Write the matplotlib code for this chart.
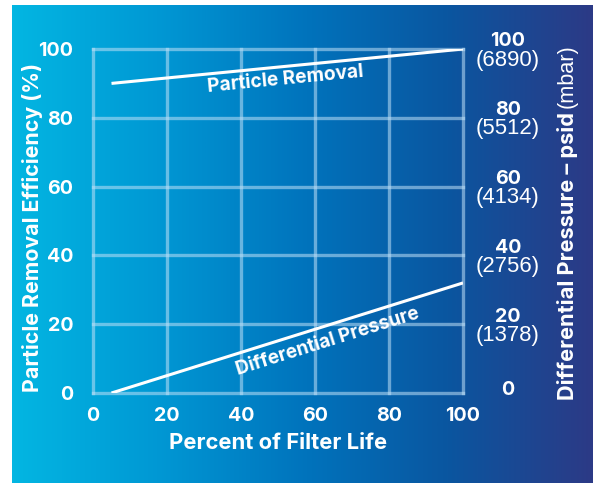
import numpy as np
import matplotlib
matplotlib.use("Agg")
import matplotlib.pyplot as plt
from matplotlib.colors import LinearSegmentedColormap
import matplotlib.transforms as mtransforms

# ---- data ----
x_ticks = [0, 20, 40, 60, 80, 100]
y_ticks = [0, 20, 40, 60, 80, 100]
psid_ticks = [0, 20, 40, 60, 80, 100]
mbar_labels = ["", "(1378)", "(2756)", "(4134)", "(5512)", "(6890)"]

filter_life = [5, 100]
particle_removal = [90, 100]
diff_pressure = [0, 32]

BOLD = ["Inter", "DejaVu Sans"]
REG = ["Liberation Sans", "DejaVu Sans"]
WHITE = "white"

W, H = 597, 483
fig = plt.figure(figsize=(W / 100, H / 100), dpi=100)
fig.patch.set_facecolor("white")
renderer = fig.canvas.get_renderer()


def fit_size(text, target_px, family, weight):
    """font size (pt) so that text spans target_px horizontally (unrotated)."""
    t = fig.text(0, 0, text, fontsize=10, fontfamily=family, fontweight=weight)
    w = t.get_window_extent(renderer).width
    t.remove()
    return 10 * target_px / w


# background gradient panel
bg = fig.add_axes([12 / W, 0, (593 - 12) / W, 1 - 5 / H], zorder=0)
cmap = LinearSegmentedColormap.from_list(
    "bg",
    [(0.0, "#03b6e2"), (0.25, "#0098d4"), (0.5, "#0074bd"), (0.75, "#0a56a0"), (1.0, "#2c3a86")],
)
grad = np.linspace(0, 1, 512)[None, :]
bg.imshow(grad, aspect="auto", cmap=cmap, extent=[0, 1, 0, 1])
bg.set_axis_off()

ax = fig.add_axes([93 / W, 1 - 393 / H, (463 - 93) / W, (393 - 49) / H], zorder=2)
ax.patch.set_alpha(0)
ax.set_xlim(0, 100)
ax.set_ylim(0, 100)
for s in ax.spines.values():
    s.set_visible(False)
ax.set_xticks(x_ticks)
ax.set_yticks(y_ticks)
ax.grid(True, color=(0.75, 0.88, 0.97), alpha=0.55, linewidth=2.4)
for gl in ax.get_xgridlines() + ax.get_ygridlines():
    gl.set_clip_on(False)

tick_fs = fit_size("100", 35, BOLD, "bold")
ax.tick_params(length=0, colors=WHITE, labelsize=tick_fs)
ax.tick_params(axis="x", pad=10)
ax.tick_params(axis="y", pad=14)
for lab in ax.get_xticklabels() + ax.get_yticklabels():
    lab.set_fontfamily(BOLD)
    lab.set_fontweight("bold")

ax.set_xlabel("Percent of Filter Life", color=WHITE,
              fontsize=fit_size("Percent of Filter Life", 217, BOLD, "bold"),
              fontweight="bold", fontfamily=BOLD, labelpad=6)

yl = "Particle Removal Efficiency (%)"
fig.text(33 / W, 1 - 227 / H, yl, color=WHITE,
         fontsize=fit_size(yl, 328, BOLD, "bold"), fontweight="bold",
         fontfamily=BOLD, rotation=90, ha="center", va="center")

ax.plot(filter_life, particle_removal, color=WHITE, lw=2.2, solid_capstyle="butt", zorder=5)
ax.plot(filter_life, diff_pressure, color=WHITE, lw=2.2, solid_capstyle="butt", zorder=5)


def line_angle(xs, ys):
    p = ax.transData.transform(np.column_stack([xs, ys]))
    return np.degrees(np.arctan2(p[1, 1] - p[0, 1], p[1, 0] - p[0, 0]))


ax.text(52, 91.2, "Particle Removal", color=WHITE,
        fontsize=fit_size("Particle Removal", 156, BOLD, "bold"), fontweight="bold",
        fontfamily=BOLD, rotation=line_angle(filter_life, particle_removal),
        rotation_mode="anchor", ha="center", va="center")
ax.text(63.5, 15.0, "Differential Pressure", color=WHITE,
        fontsize=fit_size("Differential Pressure", 192, BOLD, "bold"), fontweight="bold",
        fontfamily=BOLD, rotation=line_angle(filter_life, diff_pressure),
        rotation_mode="anchor", ha="center", va="center")

# right axis labels
par_fs = fit_size("(6890)", 64, REG, "normal")
trans = mtransforms.blended_transform_factory(ax.transAxes, ax.transData)
for v, m in zip(psid_ticks, mbar_labels):
    if m:
        off1 = mtransforms.offset_copy(trans, fig=fig, y=5.5, units="points")
        off2 = mtransforms.offset_copy(trans, fig=fig, y=-8, units="points")
        ax.text(1.1216, v, str(v), transform=off1, color=WHITE, fontsize=tick_fs,
                fontweight="bold", fontfamily=BOLD, ha="center", va="center")
        ax.text(1.1216, v, m, transform=off2, color=WHITE, fontsize=par_fs,
                fontfamily=REG, ha="center", va="center")
    else:
        off = mtransforms.offset_copy(trans, fig=fig, y=2, units="points")
        ax.text(1.1216, v, str(v), transform=off, color=WHITE, fontsize=tick_fs,
                fontweight="bold", fontfamily=BOLD, ha="center", va="center")

rl_bold = "Differential Pressure \u2013 psid"
t1 = fig.text(567 / W, 1 - 400 / H, rl_bold, color=WHITE,
              fontsize=fit_size(rl_bold, 288, BOLD, "bold"), fontweight="bold",
              fontfamily=BOLD, rotation=90, ha="center", va="bottom")
bb = t1.get_window_extent(renderer)
fig.text(567 / W, (bb.y1 + 4) / H, "(mbar)", color=WHITE,
         fontsize=fit_size("(mbar)", 64, REG, "normal"),
         fontfamily=REG, rotation=90, ha="center", va="bottom")

fig.savefig("out.png", dpi=100, facecolor=fig.get_facecolor())
